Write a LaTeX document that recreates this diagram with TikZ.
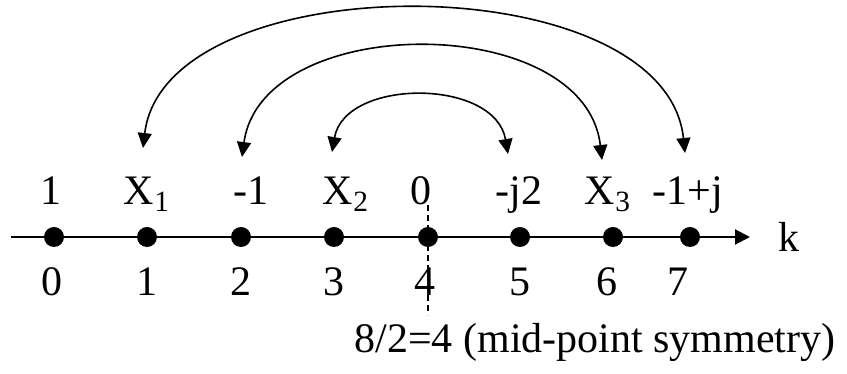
\documentclass[tikz,border=0pt]{standalone}
\usepackage{fontspec}
\setmainfont{Liberation Serif}
\usetikzlibrary{arrows.meta}
\tikzset{
  axis line/.style={line width=1pt,-{Triangle[length=7.5pt,width=7.5pt]}},
  sample dot/.style={circle,fill=black,inner sep=0pt,minimum size=10pt},
  value label/.style={anchor=base,inner sep=0pt,font=\fontsize{21}{25}\selectfont},
  swap arc/.style={line width=0.8pt,{Triangle[length=7.5pt,width=7pt]}-{Triangle[length=7.5pt,width=7pt]}},
  symmetry line/.style={line width=0.8pt,dash pattern=on 3pt off 2pt},
}

\begin{document}
\begin{tikzpicture}[x=0.5pt,y=0.5pt]
\useasboundingbox (0,0) rectangle (847,374);
% k axis
\coordinate (axstart) at (11,137);
\coordinate (axend) at (750,137);
\draw[axis line] (axstart) -- (axend);
\node[value label] (klab) at (789,122) {k};
% samples, values above and indices below
\foreach \i/\x in {0/54,1/147,2/241,3/334,4/428,5/520,6/613,7/690}
  \node[sample dot] (d\i) at (\x,137) {};
\foreach \i/\x/\val in {0/51/1,1/147/X\textsubscript{1},2/251/-1,3/346/X\textsubscript{2},4/421/0,5/519/-j2,6/608/X\textsubscript{3},7/688/-1+j}
  \node[value label] (v\i) at (\x,169) {\val};
\foreach \i/\x in {0/52,1/147,2/241,3/334,4/425,5/520,6/607,7/678}
  \node[value label] (n\i) at (\x,78) {\i};
% mid-point
\coordinate (symtop) at (428,169);
\coordinate (symbot) at (428,59);
\draw[symmetry line] (symtop) -- (symbot);
\node[value label] (note) at (595,21) {8/2=4 (mid-point symmetry)};
% swapped pairs
\coordinate (a1) at (143,226);
\coordinate (a7) at (685,221);
\coordinate (a2) at (242,217);
\coordinate (a6) at (602,214);
\coordinate (a3) at (332,222);
\coordinate (a5) at (508,220);
\draw[swap arc] (a1) .. controls (165,411) and (665,411) .. (a7);
\draw[swap arc] (a2) .. controls (262,363) and (585,363) .. (a6);
\draw[swap arc] (a3) .. controls (345,296) and (495,296) .. (a5);
\end{tikzpicture}
\end{document}
